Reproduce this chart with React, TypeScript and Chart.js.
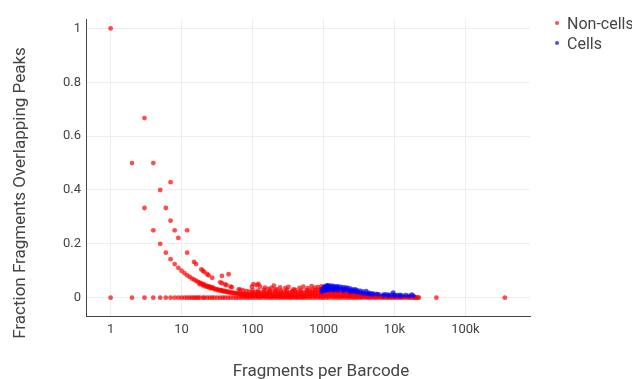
import { useEffect, useRef } from 'react';
import { Chart, registerables } from 'chart.js';

Chart.register(...registerables);

const xTickValues = [1, 10, 100, 1000, 10000, 100000];
const xTickLabels = ['1', '10', '100', '1000', '10k', '100k'];
const yTickValues = [0, 0.2, 0.4, 0.6, 0.8, 1];
const yTickLabels = ['0', '0.2', '0.4', '0.6', '0.8', '1'];

const legendLabels = ['Non-cells', 'Cells'];
const xTitle = 'Fragments per Barcode';
const yTitle = 'Fraction Fragments Overlapping Peaks';

// Non-cells lying on the zero line (x values)
const nonCellZeroX = [
  1, 2, 3, 4, 5, 6, 7, 8, 9, 10, 11, 12, 13, 14, 15, 16, 17, 18, 20, 21, 23, 25, 27, 29, 32, 35, 38, 41, 45,
  49, 54, 59, 64, 70, 77, 84, 92, 100, 110, 120, 130, 145, 160, 175, 190, 210, 230, 250, 275, 300, 330, 360,
  400, 440, 480, 530, 580, 640, 700, 770, 850, 930, 1000, 1100, 1200, 1350, 1500, 1650, 1800, 2000, 2200,
  2400, 2650, 2900, 3200, 3500, 3900, 4300, 4700, 5200, 5700, 6300, 6900, 7600, 8300, 9100, 10000, 11000,
  12000, 13000, 14500, 16000, 17500, 19000, 20500, 22000, 39000, 360000,
];

// Isolated high non-cells at small counts
const nonCellUpper: [number, number][] = [
  [1, 1], [2, 0.5], [3, 0.667], [3, 0.333], [4, 0.5], [4, 0.25], [5, 0.4], [6, 0.333], [7, 0.429],
  [7, 0.286], [8, 0.25], [9, 0.222], [12, 0.25], [12, 0.167],
];

// Lower curve of non-cells
const nonCellCurveLow: [number, number][] = [
  [5, 0.2], [6, 0.167], [7, 0.143], [8, 0.125], [9, 0.111], [10, 0.1], [11, 0.091], [12, 0.083], [13, 0.077],
  [14, 0.071], [15, 0.067], [16, 0.063], [17, 0.059], [18, 0.056], [19, 0.053], [20, 0.05], [21, 0.048],
  [22, 0.045], [23, 0.043], [24, 0.042], [25, 0.04], [26, 0.038], [27, 0.037], [28, 0.036], [30, 0.033],
  [32, 0.031], [34, 0.029], [36, 0.028], [38, 0.026], [40, 0.025], [43, 0.023], [46, 0.022], [49, 0.02],
  [52, 0.019], [56, 0.018], [60, 0.017], [64, 0.016], [69, 0.014], [74, 0.014], [80, 0.013], [86, 0.012],
  [93, 0.011], [100, 0.01], [110, 0.009], [120, 0.008], [135, 0.007], [150, 0.007], [170, 0.006],
  [190, 0.005], [220, 0.005], [250, 0.004], [280, 0.004], [320, 0.003], [360, 0.003], [420, 0.002],
  [500, 0.002],
  [18, 0.05], [20, 0.045], [22, 0.041], [24, 0.038], [26, 0.035], [29, 0.031], [32, 0.028], [35, 0.026],
  [39, 0.023], [43, 0.021], [47, 0.019], [52, 0.017], [57, 0.016], [63, 0.014], [70, 0.013], [77, 0.011],
  [85, 0.01], [93, 0.009],
];

// Upper (sparse) curve of non-cells
const nonCellCurveHigh: [number, number][] = [
  [15, 0.133], [16, 0.125], [19, 0.105], [20, 0.1], [21, 0.095], [23, 0.087], [24, 0.083], [27, 0.074],
  [35, 0.057], [37, 0.054], [41, 0.049], [43, 0.047], [49, 0.041], [51, 0.039], [64, 0.031], [67, 0.03],
  [74, 0.027], [82, 0.024], [90, 0.022],
  [37, 0.081], [46, 0.087],
];

// Dense band of non-cells
const nonCellBand: [number, number][] = [
  [70, 0.006], [77, 0.006], [84, 0.005], [92, 0.006],
  [100, 0.006], [100, 0.013], [100, 0.02], [100, 0.028],
  [110, 0.007], [110, 0.014], [110, 0.021],
  [120, 0.006], [120, 0.013], [120, 0.02], [120, 0.026],
  [132, 0.005], [132, 0.012], [132, 0.019],
  [145, 0.006], [145, 0.013], [145, 0.021], [145, 0.029],
  [160, 0.007], [160, 0.014], [160, 0.02],
  [175, 0.006], [175, 0.012], [175, 0.019], [175, 0.025],
  [192, 0.005], [192, 0.013], [192, 0.02],
  [210, 0.006], [210, 0.014], [210, 0.022], [210, 0.03],
  [230, 0.007], [230, 0.013], [230, 0.019],
  [252, 0.006], [252, 0.012], [252, 0.02], [252, 0.026],
  [277, 0.005], [277, 0.013], [277, 0.021],
  [304, 0.006], [304, 0.014], [304, 0.02], [304, 0.028],
  [333, 0.007], [333, 0.013], [333, 0.019],
  [365, 0.006], [365, 0.012], [365, 0.02], [365, 0.025],
  [400, 0.005], [400, 0.013], [400, 0.021], [400, 0.029],
  [440, 0.006], [440, 0.014], [440, 0.02],
  [482, 0.007], [482, 0.013], [482, 0.02], [482, 0.027],
  [530, 0.006], [530, 0.012], [530, 0.019],
  [580, 0.005], [580, 0.013], [580, 0.021], [580, 0.028],
  [636, 0.006], [636, 0.014], [636, 0.02], [636, 0.026],
  [698, 0.007], [698, 0.013], [698, 0.02], [698, 0.03],
  [765, 0.006], [765, 0.012], [765, 0.021], [765, 0.027],
  [840, 0.005], [840, 0.013], [840, 0.02], [840, 0.029],
  [920, 0.006], [920, 0.014], [920, 0.022], [920, 0.031],
  [1000, 0.007], [1000, 0.014], [1000, 0.021], [1000, 0.03],
  [1100, 0.006], [1100, 0.013], [1100, 0.02], [1100, 0.028], [1100, 0.034],
  [1200, 0.007], [1200, 0.014], [1200, 0.021], [1200, 0.029],
  [1320, 0.006], [1320, 0.013], [1320, 0.02], [1320, 0.027],
  [1450, 0.005], [1450, 0.012], [1450, 0.019], [1450, 0.026],
  [1590, 0.006], [1590, 0.013], [1590, 0.02], [1590, 0.026],
  [1740, 0.006], [1740, 0.012], [1740, 0.019], [1740, 0.025],
  [1910, 0.005], [1910, 0.011], [1910, 0.018], [1910, 0.024],
  [2100, 0.005], [2100, 0.011], [2100, 0.017], [2100, 0.022],
  [2300, 0.005], [2300, 0.01], [2300, 0.016], [2300, 0.021],
  [2520, 0.004], [2520, 0.01], [2520, 0.015], [2520, 0.02],
  [2770, 0.004], [2770, 0.009], [2770, 0.014], [2770, 0.018],
  [3040, 0.004], [3040, 0.009], [3040, 0.014],
  [3330, 0.004], [3330, 0.009], [3330, 0.013],
  [3650, 0.004], [3650, 0.008], [3650, 0.012],
  [4000, 0.003], [4000, 0.008], [4000, 0.012],
  [4400, 0.003], [4400, 0.007], [4400, 0.011],
  [4820, 0.003], [4820, 0.007], [4820, 0.01],
  [5290, 0.003], [5290, 0.006], [5290, 0.009],
  [5800, 0.003], [5800, 0.006], [6360, 0.003], [6360, 0.006],
  [6980, 0.002], [6980, 0.005], [7660, 0.002], [7660, 0.005],
  [8400, 0.002], [8400, 0.005], [9200, 0.002], [9200, 0.004],
  [10100, 0.002], [10100, 0.004],
  [11100, 0.002], [12200, 0.003], [13400, 0.002], [14700, 0.003], [16100, 0.002], [17700, 0.002],
  [19400, 0.001], [21300, 0.001],
];

// Scattered non-cells above the band
const nonCellScatter: [number, number][] = [
  [98, 0.041], [103, 0.05], [115, 0.047], [121, 0.051], [128, 0.041], [150, 0.037], [168, 0.033],
  [185, 0.036], [200, 0.045], [220, 0.031], [245, 0.038], [290, 0.035], [320, 0.04], [380, 0.031],
  [460, 0.036], [520, 0.041], [600, 0.035], [680, 0.043], [760, 0.037], [840, 0.039], [940, 0.042],
  [1050, 0.038], [1400, 0.032], [2000, 0.028], [2900, 0.021], [4200, 0.015], [5800, 0.011], [7200, 0.008],
];

// Cells
const cellPoints: [number, number][] = [
  [950, 0.03], [950, 0.022], [1000, 0.038], [1000, 0.028], [1050, 0.042], [1050, 0.033], [1050, 0.025],
  [1100, 0.045], [1100, 0.037], [1100, 0.029], [1150, 0.046], [1150, 0.04], [1150, 0.032],
  [1200, 0.044], [1200, 0.036], [1200, 0.028], [1300, 0.045], [1300, 0.038], [1300, 0.03],
  [1400, 0.043], [1400, 0.035], [1400, 0.027], [1500, 0.041], [1500, 0.034], [1600, 0.042],
  [1600, 0.035], [1600, 0.028], [1750, 0.04], [1750, 0.033], [1900, 0.038], [1900, 0.031],
  [1900, 0.025], [2050, 0.037], [2050, 0.03], [2200, 0.036], [2200, 0.028], [2400, 0.034],
  [2400, 0.027], [2400, 0.021], [2600, 0.03], [2600, 0.024], [2800, 0.031], [2800, 0.023],
  [3000, 0.027], [3000, 0.02], [3300, 0.025], [3300, 0.018], [3600, 0.022], [3600, 0.016],
  [4000, 0.024], [4000, 0.015], [4400, 0.018], [4400, 0.013], [4900, 0.016], [4900, 0.012],
  [5500, 0.014], [6000, 0.012], [7000, 0.011], [7000, 0.008], [7600, 0.012], [8300, 0.01],
  [8300, 0.007], [9100, 0.011], [9600, 0.019], [10000, 0.01], [10000, 0.007], [11000, 0.009],
  [12000, 0.01], [12000, 0.006], [13000, 0.008], [14500, 0.009], [16000, 0.007], [17500, 0.011],
  [18500, 0.008],
];

const RED = 'rgba(255,0,0,0.7)';
const BLUE = 'rgba(0,0,255,0.7)';
const FONT = 'Roboto, "Open Sans", sans-serif';
const TEXT = '#444';

const toPts = (arr: [number, number][]) => arr.map(([x, y]) => ({ x, y }));

const decorations = {
  id: 'decorations',
  afterDraw(chart: any) {
    const ctx = chart.ctx;
    ctx.save();
    ctx.fillStyle = TEXT;
    ctx.font = `17px ${FONT}`;
    ctx.textAlign = 'center';
    ctx.textBaseline = 'alphabetic';
    ctx.fillText(xTitle, 321, 376);
    ctx.save();
    ctx.translate(25, 193);
    ctx.rotate(-Math.PI / 2);
    ctx.fillText(yTitle, 0, 0);
    ctx.restore();
    // legend
    const colors = [RED, BLUE];
    ctx.font = `16px ${FONT}`;
    ctx.textAlign = 'left';
    legendLabels.forEach((lab, i) => {
      const cy = 23 + i * 20;
      ctx.fillStyle = colors[i];
      ctx.beginPath();
      ctx.arc(557, cy, 2, 0, Math.PI * 2);
      ctx.fill();
      ctx.fillStyle = TEXT;
      ctx.fillText(lab, 567, cy + 5.5);
    });
    ctx.restore();
  },
};

export default function App() {
  const ref = useRef<HTMLCanvasElement>(null);
  useEffect(() => {
    if (!ref.current) return;
    const nonCells = [
      ...nonCellZeroX.map((x) => ({ x, y: 0 })),
      ...toPts(nonCellUpper),
      ...toPts(nonCellCurveLow),
      ...toPts(nonCellCurveHigh),
      ...toPts(nonCellBand),
      ...toPts(nonCellScatter),
    ];
    const cells = toPts(cellPoints);
    const chart = new Chart(ref.current, {
      type: 'scatter',
      data: {
        datasets: [
          {
            label: legendLabels[0],
            data: nonCells,
            backgroundColor: RED,
            pointRadius: 2.4,
            pointBorderWidth: 0,
            order: 2,
          },
          {
            label: legendLabels[1],
            data: cells,
            backgroundColor: BLUE,
            pointRadius: 2.4,
            pointBorderWidth: 0,
            order: 1,
          },
        ],
      },
      options: {
        responsive: false,
        animation: false,
        events: [],
        layout: { padding: { top: 19, right: 102, left: 0, bottom: 0 } },
        plugins: { legend: { display: false }, tooltip: { enabled: false } },
        scales: {
          x: {
            type: 'logarithmic',
            bounds: 'data',
            min: 0.45,
            max: 813000,
            afterBuildTicks: (s: any) => {
              s.ticks = xTickValues.map((v) => ({ value: v }));
            },
            afterFit: (s: any) => {
              s.height = 63;
            },
            ticks: {
              callback: (_v: any, i: number) => xTickLabels[i],
              font: { family: FONT, size: 13 },
              color: TEXT,
              padding: 6,
              maxRotation: 0,
              autoSkip: false,
            },
            grid: { color: '#eeeeee', drawTicks: false },
            border: { color: '#444', width: 1 },
          },
          y: {
            type: 'linear',
            bounds: 'data',
            min: -0.068,
            max: 1.035,
            afterBuildTicks: (s: any) => {
              s.ticks = yTickValues.map((v) => ({ value: v }));
            },
            afterFit: (s: any) => {
              s.width = 86;
            },
            ticks: {
              callback: (_v: any, i: number) => yTickLabels[i],
              font: { family: FONT, size: 13 },
              color: TEXT,
              padding: 5,
              autoSkip: false,
            },
            grid: { color: '#eeeeee', drawTicks: false },
            border: { color: '#444', width: 1 },
          },
        },
      },
      plugins: [decorations],
    } as any);
    return () => chart.destroy();
  }, []);
  return (
    <div style={{ position: 'fixed', left: 0, top: 0, width: 632, height: 379, background: '#fff' }}>
      <canvas ref={ref} width={632} height={379} style={{ display: 'block' }} />
    </div>
  );
}
